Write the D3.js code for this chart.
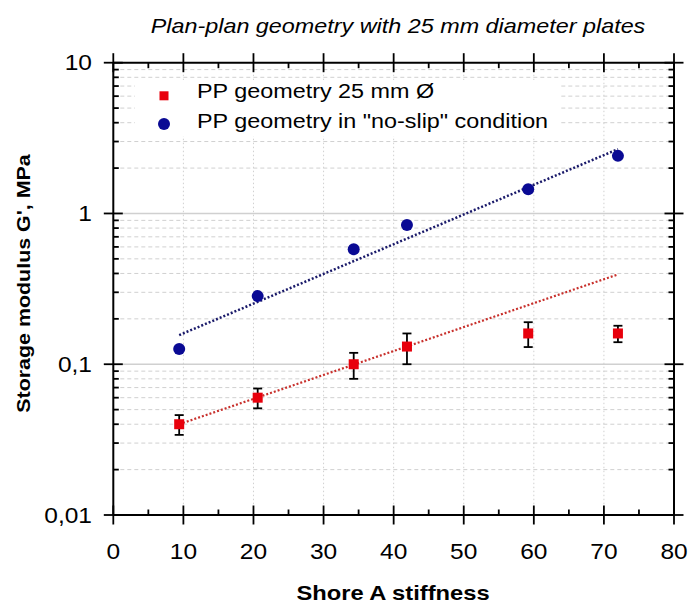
<!DOCTYPE html>
<html>
<head>
<meta charset="utf-8">
<script src="https://cdn.jsdelivr.net/npm/d3@7"></script>
<style>
  html, body { margin: 0; padding: 0; background: #fff; }
  svg { display: block; font-family: "Liberation Sans", Arial, sans-serif; }
</style>
</head>
<body>
<svg id="chart" width="688" height="606"></svg>
<script>
// ---- data ----
const shoreA       = [9.4, 20.6, 34.3, 41.9, 59.2, 72.0];
const gPP          = [0.040, 0.060, 0.100, 0.131, 0.160, 0.160];
const gPPerrLow    = [0.034, 0.051, 0.080, 0.100, 0.130, 0.140];
const gPPerrHigh   = [0.046, 0.069, 0.119, 0.160, 0.190, 0.180];
const gNoSlip      = [0.126, 0.283, 0.578, 0.838, 1.445, 2.41];
const fitX         = [9.4, 72.0];
const fitPP        = [0.040, 0.394];
const fitNoSlip    = [0.156, 2.67];
const xTicks       = [0, 10, 20, 30, 40, 50, 60, 70, 80];
const yTicks       = [0.01, 0.1, 1, 10];
const yTickLabels  = ["0,01", "0,1", "1", "10"];
const seriesNames  = ["PP geometry 25 mm \u00D8", "PP geometry in \"no-slip\" condition"];
const titleText    = "Plan-plan geometry with 25 mm diameter plates";
const xTitle       = "Shore A stiffness";
const yTitle       = "Storage modulus G', MPa";

// ---- layout ----
const L = 113.3, R = 674, T = 62.7, B = 515;
const SX = 1.14; // horizontal stretch of the original lettering
const svg = d3.select("#chart");
const x = d3.scaleLinear().domain([0, 80]).range([L, R]);
const y = d3.scaleLog().domain([0.01, 10]).range([B, T]);

const red = "#e8000c", blue = "#0a0a94";
const gridCol = "#d0d0d0";

function sText(parent, tx, ty, str, o) {
  const g = parent.append("g")
    .attr("transform", `translate(${tx},${ty})` + (o.rot ? ` rotate(${o.rot})` : "") + ` scale(${SX},1)`);
  return g.append("text").attr("x", 0).attr("y", 0)
    .attr("text-anchor", o.anchor || "start")
    .attr("font-size", o.size)
    .attr("font-weight", o.weight || "normal")
    .attr("font-style", o.style || "normal")
    .attr("fill", "#000")
    .text(str);
}

// minor y values
const yMinor = [];
[0.01, 0.1, 1].forEach(d => { for (let k = 2; k <= 9; k++) yMinor.push(d * k); });
const xMinor = d3.range(5, 80, 10);

// grid
const grid = svg.append("g");
grid.selectAll(".gmin").data(yMinor).join("line")
  .attr("x1", L).attr("x2", R).attr("y1", d => y(d)).attr("y2", d => y(d))
  .attr("stroke", gridCol).attr("stroke-width", 1).attr("stroke-dasharray", "4,3");
grid.selectAll(".gmaj").data(yTicks.slice(1, -1)).join("line")
  .attr("x1", L).attr("x2", R).attr("y1", d => y(d)).attr("y2", d => y(d))
  .attr("stroke", gridCol).attr("stroke-width", 1.5);
grid.selectAll(".gx").data(xTicks.slice(1, -1)).join("line")
  .attr("x1", d => x(d)).attr("x2", d => x(d)).attr("y1", T).attr("y2", B)
  .attr("stroke", gridCol).attr("stroke-width", 1).attr("stroke-dasharray", "1.5,2.5");

// legend background
svg.append("rect").attr("x", 135).attr("y", 80).attr("width", 425).attr("height", 56).attr("fill", "#fff");

// axes frame + ticks
const axG = svg.append("g").attr("stroke", "#000");
const tk = 9.5, mtk = 5.5;
function hLine(g, y0, x1, x2, w) { g.append("line").attr("x1", x1).attr("x2", x2).attr("y1", y0).attr("y2", y0).attr("stroke-width", w); }
function vLine(g, x0, y1, y2, w) { g.append("line").attr("x1", x0).attr("x2", x0).attr("y1", y1).attr("y2", y2).attr("stroke-width", w); }
hLine(axG, B, L, R, 2); hLine(axG, T, L, R, 2);
vLine(axG, L, T, B, 2); vLine(axG, R, T, B, 2);
xTicks.forEach(d => { vLine(axG, x(d), B - tk, B + tk, 1.8); vLine(axG, x(d), T - tk, T + tk, 1.8); });
xMinor.forEach(d => { vLine(axG, x(d), B - mtk, B, 1.8); vLine(axG, x(d), T, T + mtk, 1.8); });
yTicks.forEach(d => { hLine(axG, y(d), L - tk, L + tk, 1.8); hLine(axG, y(d), R - tk, R + tk, 1.8); });
yMinor.forEach(d => { hLine(axG, y(d), L, L + mtk, 1.8); hLine(axG, y(d), R - mtk, R, 1.8); });

// tick labels
const xl = svg.append("g");
xTicks.forEach(d => sText(xl, x(d), 559, d, { size: 21.5, anchor: "middle" }));
const yl = svg.append("g");
yTicks.forEach((d, i) => sText(yl, 92, y(d) + 7.7, yTickLabels[i], { size: 21.5, anchor: "end" }));

// titles
sText(svg, 398, 33, titleText, { size: 20.5, anchor: "middle", style: "italic" });
sText(svg, 393, 600, xTitle, { size: 20.8, anchor: "middle", weight: "bold" });
sText(svg, 30, 283.5, yTitle, { size: 18.8, anchor: "middle", weight: "bold", rot: -90 });

// fit lines
const line = d3.line().x(d => x(d[0])).y(d => y(d[1]));
svg.append("path").datum(fitX.map((v, i) => [v, fitNoSlip[i]])).attr("d", line)
  .attr("fill", "none").attr("stroke", "#1a1a6a").attr("stroke-width", 2.5).attr("stroke-dasharray", "2,2");
svg.append("path").datum(fitX.map((v, i) => [v, fitPP[i]])).attr("d", line)
  .attr("fill", "none").attr("stroke", "#c8302c").attr("stroke-width", 2.2).attr("stroke-dasharray", "2,2");

// error bars
const eb = svg.append("g").attr("stroke", "#000");
shoreA.forEach((s, i) => {
  vLine(eb, x(s), y(gPPerrHigh[i]), y(gPPerrLow[i]), 1.8);
  hLine(eb, y(gPPerrHigh[i]), x(s) - 4.5, x(s) + 4.5, 1.8);
  hLine(eb, y(gPPerrLow[i]), x(s) - 4.5, x(s) + 4.5, 1.8);
});

// markers
svg.append("g").selectAll("rect").data(shoreA).join("rect")
  .attr("x", d => x(d) - 5).attr("y", (d, i) => y(gPP[i]) - 5)
  .attr("width", 10).attr("height", 10).attr("fill", red);
svg.append("g").selectAll("circle").data(shoreA).join("circle")
  .attr("cx", d => x(d)).attr("cy", (d, i) => y(gNoSlip[i])).attr("r", 6).attr("fill", blue);

// legend
svg.append("rect").attr("x", 159.5).attr("y", 91.3).attr("width", 9).attr("height", 9).attr("fill", red);
svg.append("circle").attr("cx", 164).attr("cy", 124).attr("r", 6).attr("fill", blue);
sText(svg, 197, 98, seriesNames[0], { size: 20.5 });
sText(svg, 197, 127.5, seriesNames[1], { size: 20.5 });
</script>
</body>
</html>
